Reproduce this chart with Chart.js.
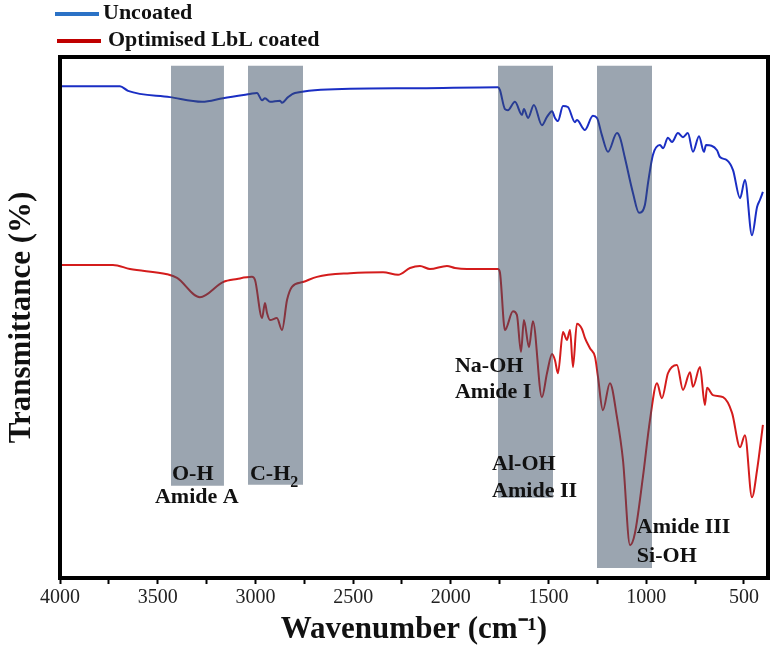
<!DOCTYPE html>
<html>
<head>
<meta charset="utf-8">
<script src="https://cdn.jsdelivr.net/npm/chart.js@4.4.1/dist/chart.umd.min.js"></script>
<style>
    html, body { margin: 0; padding: 0; background: #fff; }
    #wrap { width: 774px; height: 663px; }
</style>
</head>
<body>
<div id="wrap"><canvas id="ftirChart" width="774" height="663"></canvas></div>
<script>
// spectra (wavenumber in cm-1, transmittance in arbitrary %)
const uncoatedWn = [3990, 3693, 3652, 3437, 3273, 3166, 3028, 2992, 2966, 2951, 2925, 2874, 2864, 2833, 2798, 2516, 2158, 1759,
    1749, 1723, 1708, 1672, 1636, 1626, 1605, 1575, 1534, 1508, 1482, 1467, 1452, 1426, 1401, 1365, 1355, 1314, 1273, 1252,
    1227, 1196, 1150, 1134, 1109, 1068, 1037, 1007, 991, 966, 930, 914, 889, 868, 838, 812, 787, 761, 730, 705, 694, 638,
    623, 587, 556, 520, 495, 459, 433, 418, 403];
const uncoatedT = [94.4, 94.4, 93.5, 92.3, 91.4, 92.1, 92.9, 93.1, 91.7, 92.1, 91.4, 91.6, 91.2, 92.3, 93.1, 93.9, 94.0, 94.2,
    93.7, 90.0, 89.8, 91.4, 88.9, 90.0, 88.3, 90.8, 86.9, 88.5, 89.6, 88.3, 87.7, 90.6, 90.4, 87.5, 87.9, 86.0, 88.7, 88.3,
    85.0, 81.8, 85.4, 84.5, 80.6, 73.9, 70.1, 71.6, 75.8, 81.2, 83.1, 82.5, 84.5, 83.7, 85.4, 84.6, 85.4, 81.8, 84.8, 81.8, 83.1, 82.1,
    80.8, 80.2, 78.3, 72.9, 76.4, 65.8, 71.2, 72.6, 74.1];

const coatedWn = [3990, 3729, 3642, 3452, 3401, 3284, 3166, 3094, 3018, 3002, 2966, 2951, 2941, 2925, 2890, 2864, 2838, 2813,
    2757, 2685, 2516, 2347, 2270, 2209, 2158, 2107, 2020, 1979, 1917, 1759, 1749, 1723, 1682, 1662, 1641, 1626, 1600, 1580,
    1534, 1508, 1482, 1467, 1452, 1426, 1406, 1390, 1375, 1355, 1329, 1314, 1288, 1262, 1247, 1222, 1186, 1150, 1119, 1083,
    1058, 1017, 981, 945, 920, 889, 843, 812, 776, 761, 725, 700, 689, 659, 607, 561, 520, 495, 459, 433, 403];
const coatedT = [60.1, 60.1, 59.3, 58.3, 57.6, 53.9, 56.8, 57.4, 57.8, 57.2, 49.9, 52.8, 50.9, 49.5, 49.9, 47.6, 53.4, 55.9,
    56.8, 57.8, 58.5, 58.7, 58.2, 59.5, 59.9, 59.3, 59.9, 59.5, 59.3, 59.3, 58.7, 47.6, 51.2, 50.5, 43.4, 49.5, 44.3, 49.3,
    34.7, 39.3, 43.0, 41.8, 39.3, 47.2, 45.7, 47.6, 40.5, 48.8, 47.8, 46.1, 44.1, 42.4, 38.6, 32.2, 37.4, 30.9, 22.6, 6.3,
    8.6, 19.4, 30.3, 37.4, 34.5, 39.3, 40.9, 36.1, 39.5, 36.7, 40.5, 33.2, 36.5, 35.1, 34.7, 31.7, 25.1, 27.4, 15.5, 20.7, 29.4];

// shaded assignment bands
const bandFrom = [3432, 3038, 1759, 1252];
const bandTo = [3161, 2756, 1477, 970];
const bandTop = [98.3, 98.3, 98.3, 98.3];
const bandBottom = [17.7, 17.9, 15.4, 1.9];

// band labels: left edge (wavenumber), baseline (transmittance)
const noteText = ['O-H', 'Amide A', 'C-H', 'Na-OH', 'Amide I', 'Al-OH', 'Amide II', 'Amide III', 'Si-OH'];
const noteWn = [3427, 3514, 3028, 1979, 1979, 1789, 1789, 1048, 1048];
const noteT = [18.8, 14.4, 18.8, 39.5, 34.5, 20.7, 15.5, 8.6, 3.1];

const xTickValues = [4000, 3750, 3500, 3250, 3000, 2750, 2500, 2250, 2000, 1750, 1500, 1250, 1000, 750, 500];
const xTickLabels = ['4000', '', '3500', '', '3000', '', '2500', '', '2000', '', '1500', '', '1000', '', '500'];

const seriesNames = ['Uncoated', 'Optimised LbL coated'];
const lineColors = ['#1a2ec4', '#d41c1c'];
const legendColors = ['#2b72c6', '#c00000'];

const SERIF = '"Liberation Serif", "Times New Roman", serif';

function toPoints(xs, ys) {
    return xs.map((x, i) => ({ x: x, y: ys[i] }));
}

const bandSets = bandFrom.map((from, i) => ({
    label: 'band' + i,
    data: [{ x: from, y: bandTop[i] }, { x: bandTo[i], y: bandTop[i] }],
    borderWidth: 0,
    pointRadius: 0,
    backgroundColor: 'rgba(55, 75, 97, 0.5)',
    fill: { value: bandBottom[i] },
    order: 0
}));

const framePlugin = {
    id: 'frameAndNotes',
    afterDraw(chart) {
        const ctx = chart.ctx;
        const area = chart.chartArea;
        const xs = chart.scales.x;
        const ys = chart.scales.y;
        ctx.save();

        // frame
        ctx.strokeStyle = '#000';
        ctx.lineWidth = 4;
        ctx.strokeRect(area.left, area.top, area.right - area.left, area.bottom - area.top);

        // band labels
        ctx.fillStyle = '#111';
        ctx.textBaseline = 'alphabetic';
        ctx.textAlign = 'left';
        noteText.forEach((t, i) => {
            const px = xs.getPixelForValue(noteWn[i]);
            const py = ys.getPixelForValue(noteT[i]);
            ctx.font = 'bold 22px ' + SERIF;
            ctx.fillText(t, px, py);
            if (t === 'C-H') {
                const w = ctx.measureText(t).width;
                ctx.font = 'bold 16px ' + SERIF;
                ctx.fillText('2', px + w, py + 7);
            }
        });

        // legend
        const rows = [14, 41];
        seriesNames.forEach((name, i) => {
            ctx.strokeStyle = legendColors[i];
            ctx.lineWidth = 4;
            ctx.beginPath();
            ctx.moveTo(55 + i * 2, rows[i]);
            ctx.lineTo(99 + i * 2, rows[i]);
            ctx.stroke();
            ctx.font = 'bold 22px ' + SERIF;
            ctx.fillStyle = '#111';
            ctx.fillText(name, 103 + i * 5, rows[i] + 5);
        });
        ctx.restore();
    }
};

new Chart(document.getElementById('ftirChart'), {
    type: 'line',
    data: {
        datasets: [
            {
                label: seriesNames[0],
                data: toPoints(uncoatedWn, uncoatedT),
                borderColor: lineColors[0],
                borderWidth: 2,
                pointRadius: 0,
                cubicInterpolationMode: 'monotone',
                fill: false,
                order: 1
            },
            {
                label: seriesNames[1],
                data: toPoints(coatedWn, coatedT),
                borderColor: lineColors[1],
                borderWidth: 2,
                pointRadius: 0,
                cubicInterpolationMode: 'monotone',
                fill: false,
                order: 1
            },
            ...bandSets
        ]
    },
    options: {
        responsive: false,
        animation: false,
        devicePixelRatio: 1,
        layout: { padding: { top: 57, right: 6, left: 0, bottom: 0 } },
        plugins: {
            legend: { display: false },
            tooltip: { enabled: false }
        },
        scales: {
            x: {
                type: 'linear',
                reverse: true,
                min: 377,
                max: 4000,
                afterBuildTicks: (scale) => { scale.ticks = xTickValues.map(v => ({ value: v })); },
                afterFit: (scale) => { scale.height = 85; },
                ticks: {
                    autoSkip: false,
                    maxRotation: 0,
                    padding: 2,
                    color: '#222',
                    font: { family: SERIF, size: 20 },
                    callback: (value, index) => xTickLabels[index]
                },
                grid: { display: true, drawOnChartArea: false, drawTicks: true, tickLength: 6, tickColor: '#000', tickWidth: 2 },
                border: { display: false },
                title: {
                    display: true,
                    text: 'Wavenumber (cm\u207B\u00B9)',
                    color: '#111',
                    font: { family: SERIF, size: 31, weight: 'bold' },
                    padding: { top: 14, bottom: 14 }
                }
            },
            y: {
                min: 0,
                max: 100,
                afterFit: (scale) => { scale.width = 60; },
                ticks: { display: false },
                grid: { display: false },
                border: { display: false },
                title: {
                    display: true,
                    text: 'Transmittance (%)',
                    color: '#111',
                    font: { family: SERIF, size: 31, weight: 'bold' },
                    padding: { top: 3, bottom: 3 }
                }
            }
        }
    },
    plugins: [framePlugin]
});
</script>
</body>
</html>
